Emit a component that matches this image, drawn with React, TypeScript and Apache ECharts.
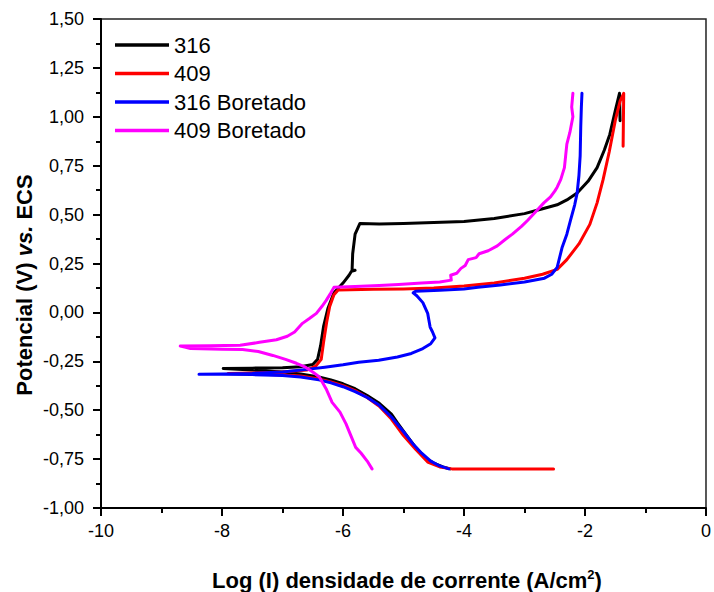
import React, { useEffect, useRef } from "react";
import * as echarts from "echarts";

const seriesNames = ["316", "409", "316 Boretado", "409 Boretado"];
const seriesColors = ["#000000", "#ff0000", "#0000ff", "#ff00ff"];

const xTicks = ["-10", "-8", "-6", "-4", "-2", "0"];

const aco316: number[][] = [
  [-4.23, -0.8], [-4.35, -0.79], [-4.5, -0.77], [-4.64, -0.745], [-4.8, -0.69], [-4.97, -0.62],
  [-5.1, -0.565], [-5.2, -0.52], [-5.4, -0.465], [-5.6, -0.425], [-5.8, -0.39], [-6.0, -0.365],
  [-6.2, -0.345], [-6.4, -0.33], [-6.7, -0.315], [-7.0, -0.305], [-7.5, -0.295], [-7.98, -0.287],
  [-7.5, -0.285], [-7.0, -0.283], [-6.7, -0.278], [-6.5, -0.266], [-6.42, -0.24], [-6.37, -0.17],
  [-6.32, -0.07], [-6.25, 0.02], [-6.15, 0.1], [-6.0, 0.15], [-5.9, 0.19], [-5.86, 0.21],
  [-5.8, 0.215], [-5.85, 0.215], [-5.84, 0.3], [-5.8, 0.4], [-5.72, 0.455], [-5.4, 0.452],
  [-5.0, 0.455], [-4.5, 0.46], [-4.0, 0.465], [-3.5, 0.48], [-3.0, 0.505], [-2.7, 0.53],
  [-2.46, 0.55], [-2.3, 0.575], [-2.13, 0.61], [-1.95, 0.67], [-1.8, 0.74], [-1.68, 0.83],
  [-1.59, 0.91], [-1.5, 1.03], [-1.43, 1.12], [-1.42, 0.98]
];

const aco409: number[][] = [
  [-2.52, -0.8], [-3.5, -0.8], [-4.2, -0.8], [-4.4, -0.79], [-4.6, -0.765], [-4.8, -0.7],
  [-5.0, -0.63], [-5.2, -0.545], [-5.4, -0.48], [-5.6, -0.435], [-5.8, -0.4], [-6.0, -0.375],
  [-6.2, -0.355], [-6.4, -0.34], [-6.7, -0.325], [-7.0, -0.32], [-7.5, -0.315], [-7.9, -0.312],
  [-7.5, -0.31], [-7.0, -0.305], [-6.6, -0.295], [-6.45, -0.275], [-6.36, -0.24], [-6.32, -0.15],
  [-6.27, -0.05], [-6.22, 0.03], [-6.15, 0.09], [-6.08, 0.115], [-5.5, 0.118], [-5.0, 0.12],
  [-4.5, 0.125], [-4.0, 0.135], [-3.5, 0.15], [-3.0, 0.175], [-2.7, 0.195], [-2.46, 0.22],
  [-2.3, 0.27], [-2.1, 0.35], [-1.92, 0.45], [-1.8, 0.56], [-1.7, 0.68], [-1.6, 0.82],
  [-1.5, 0.98], [-1.42, 1.08], [-1.36, 1.12], [-1.37, 0.85]
];

const aco316Boretado: number[][] = [
  [-4.25, -0.8], [-4.4, -0.785], [-4.55, -0.76], [-4.7, -0.72], [-4.85, -0.67], [-5.0, -0.61],
  [-5.2, -0.535], [-5.4, -0.475], [-5.6, -0.435], [-5.8, -0.405], [-6.0, -0.38], [-6.2, -0.36],
  [-6.4, -0.345], [-6.7, -0.33], [-7.0, -0.322], [-7.5, -0.318], [-8.0, -0.316], [-8.38, -0.316],
  [-8.0, -0.315], [-7.5, -0.312], [-7.0, -0.305], [-6.56, -0.29], [-6.3, -0.28], [-6.0, -0.268],
  [-5.74, -0.255], [-5.41, -0.245], [-5.1, -0.228], [-4.87, -0.21], [-4.68, -0.185], [-4.55, -0.16],
  [-4.48, -0.13], [-4.52, -0.1], [-4.56, -0.075], [-4.58, -0.04], [-4.6, -0.005], [-4.68, 0.05],
  [-4.78, 0.085], [-4.84, 0.1], [-4.8, 0.108], [-4.4, 0.113], [-4.0, 0.12], [-3.77, 0.128],
  [-3.4, 0.14], [-3.0, 0.155], [-2.67, 0.175], [-2.55, 0.195], [-2.46, 0.23], [-2.42, 0.28],
  [-2.38, 0.33], [-2.3, 0.4], [-2.24, 0.47], [-2.17, 0.55], [-2.13, 0.61], [-2.1, 0.7],
  [-2.08, 0.8], [-2.07, 0.95], [-2.06, 1.05], [-2.05, 1.12]
];

const aco409Boretado: number[][] = [
  [-5.52, -0.8], [-5.6, -0.76], [-5.7, -0.72], [-5.79, -0.69], [-5.87, -0.63], [-5.95, -0.57],
  [-6.05, -0.51], [-6.18, -0.46], [-6.28, -0.39], [-6.39, -0.33], [-6.5, -0.305], [-6.62, -0.28],
  [-6.77, -0.26], [-6.95, -0.24], [-7.16, -0.22], [-7.4, -0.2], [-7.66, -0.19], [-8.0, -0.188],
  [-8.52, -0.185], [-8.6, -0.178], [-8.69, -0.172], [-8.2, -0.17], [-7.7, -0.168], [-7.38, -0.153],
  [-7.1, -0.14], [-6.92, -0.122], [-6.8, -0.1], [-6.67, -0.056], [-6.55, -0.03], [-6.44, -0.005],
  [-6.35, 0.03], [-6.28, 0.06], [-6.2, 0.1], [-6.15, 0.128], [-5.8, 0.133], [-5.4, 0.138],
  [-5.08, 0.143], [-4.7, 0.15], [-4.4, 0.155], [-4.21, 0.165], [-4.22, 0.19], [-4.12, 0.2],
  [-4.05, 0.225], [-3.98, 0.24], [-3.93, 0.27], [-3.8, 0.28], [-3.75, 0.3], [-3.6, 0.315],
  [-3.45, 0.34], [-3.33, 0.37], [-3.2, 0.4], [-3.05, 0.44], [-2.95, 0.47], [-2.8, 0.52],
  [-2.68, 0.56], [-2.57, 0.59], [-2.5, 0.62], [-2.46, 0.64], [-2.4, 0.68], [-2.34, 0.74],
  [-2.32, 0.8], [-2.3, 0.86], [-2.25, 0.92], [-2.2, 1.0], [-2.22, 1.05], [-2.2, 1.12]
];

const seriesData = [aco316, aco409, aco316Boretado, aco409Boretado];

const FONT = "'Liberation Sans', Arial, Helvetica, sans-serif";

export default function App() {
  const ref = useRef<HTMLDivElement>(null);
  useEffect(() => {
    if (!ref.current) return;
    const chart = echarts.init(ref.current, null, { renderer: "svg" });
    chart.setOption({
      animation: false,
      backgroundColor: "#ffffff",
      textStyle: { fontFamily: FONT },
      grid: {
        left: 101, top: 19, right: 5, bottom: 84,
        show: true, borderColor: "#222", borderWidth: 1.5, backgroundColor: "transparent"
      },
      legend: {
        orient: "vertical",
        left: 110,
        top: 29,
        icon: "rect",
        itemWidth: 54,
        itemHeight: 3.5,
        itemGap: 6.5,
        data: seriesNames,
        textStyle: { fontSize: 22, color: "#000", fontFamily: FONT, lineHeight: 22 }
      },
      xAxis: {
        type: "value",
        min: -10,
        max: 0,
        interval: 2,
        splitLine: { show: false },
        axisLine: { onZero: false, lineStyle: { color: "#000", width: 2 } },
        axisTick: { length: 8, lineStyle: { color: "#000", width: 2 } },
        minorTick: { show: true, splitNumber: 2, length: 5, lineStyle: { color: "#000", width: 2 } },
        axisLabel: {
          fontSize: 18, color: "#000", margin: 14, fontFamily: FONT,
          formatter: (v: number) => xTicks[Math.round((v + 10) / 2)] ?? String(v)
        }
      },
      yAxis: {
        type: "value",
        min: -1,
        max: 1.5,
        interval: 0.25,
        splitLine: { show: false },
        axisLine: { onZero: false, lineStyle: { color: "#000", width: 2 } },
        axisTick: { length: 8, lineStyle: { color: "#000", width: 2 } },
        minorTick: { show: true, splitNumber: 2, length: 5, lineStyle: { color: "#000", width: 2 } },
        axisLabel: {
          fontSize: 18, color: "#000", margin: 17, fontFamily: FONT,
          formatter: (v: number) => v.toFixed(2).replace(".", ",")
        }
      },
      graphic: [
        {
          type: "text",
          x: 24,
          y: 285,
          rotation: Math.PI / 2,
          style: {
            text: "{b|Potencial (V) }{i|vs.}{b| ECS}",
            align: "center",
            verticalAlign: "middle",
            fill: "#000",
            rich: {
              b: { fontSize: 22, fontWeight: "bold", fontFamily: FONT, fill: "#000" },
              i: { fontSize: 22, fontWeight: "bold", fontStyle: "italic", fontFamily: FONT, fill: "#000" }
            }
          }
        },
        {
          type: "text",
          x: 407,
          y: 580,
          style: {
            text: "{b|Log (I) densidade de corrente (A/cm}{s|2}{b|)}",
            align: "center",
            verticalAlign: "middle",
            fill: "#000",
            rich: {
              b: { fontSize: 22, fontWeight: "bold", fontFamily: FONT, fill: "#000", lineHeight: 24 },
              s: { fontSize: 13, fontWeight: "bold", fontFamily: FONT, fill: "#000", verticalAlign: "top", lineHeight: 14 }
            }
          }
        }
      ],
      series: seriesNames.map((name, i) => ({
        name,
        type: "line",
        data: seriesData[i],
        showSymbol: false,
        symbol: "none",
        smooth: false,
        lineStyle: { color: seriesColors[i], width: 3, cap: "round", join: "round" },
        itemStyle: { color: seriesColors[i] },
        z: 2 + i
      }))
    });
    return () => chart.dispose();
  }, []);
  return (
    <div
      ref={ref}
      style={{ position: "fixed", left: 0, top: 0, width: 714, height: 592, background: "#fff" }}
    />
  );
}
